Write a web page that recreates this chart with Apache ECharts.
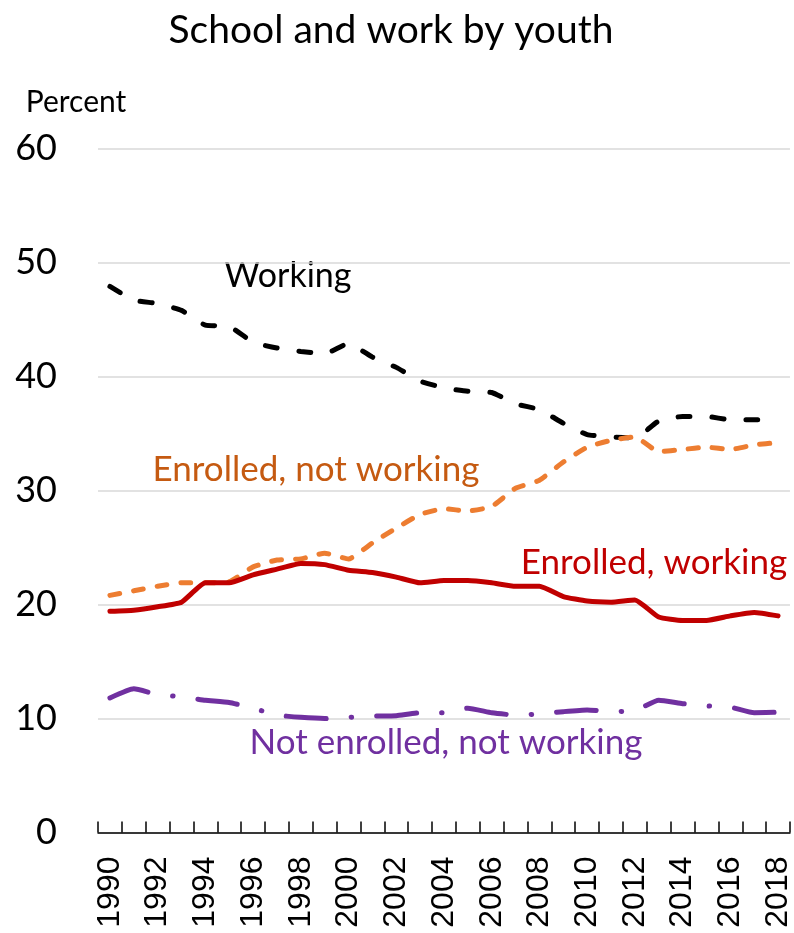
<!DOCTYPE html>
<html>
<head>
<meta charset="utf-8">
<script src="https://cdn.jsdelivr.net/npm/echarts@6/dist/echarts.min.js"></script>
<style>
html,body{margin:0;padding:0;background:#fff;}
#chart{width:794px;height:933px;}
</style>
</head>
<body>
<div id="chart"></div>
<script>
const years = ['1990','1991','1992','1993','1994','1995','1996','1997','1998','1999','2000','2001','2002','2003','2004','2005','2006','2007','2008','2009','2010','2011','2012','2013','2014','2015','2016','2017','2018'];
const working = [47.9,46.7,46.4,45.8,44.5,44.4,43.0,42.5,42.2,42.0,42.9,41.7,40.8,39.6,39.0,38.7,38.6,37.6,37.1,35.9,34.9,34.7,34.6,36.1,36.5,36.5,36.2,36.2,36.2];
const enrolledNotWorking = [20.8,21.2,21.6,21.9,21.9,22.0,23.3,23.9,24.0,24.5,24.0,25.4,26.7,27.9,28.4,28.2,28.6,30.2,30.9,32.5,33.8,34.4,34.7,33.4,33.6,33.8,33.6,34.0,34.2];
const enrolledWorking = [19.4,19.5,19.8,20.2,21.9,21.9,22.6,23.1,23.6,23.5,23.0,22.8,22.4,21.9,22.1,22.1,21.9,21.6,21.6,20.7,20.3,20.2,20.4,18.9,18.6,18.6,19.0,19.3,19.0];
const notEnrolledNotWorking = [11.8,12.6,12.1,11.9,11.6,11.4,10.9,10.3,10.1,10.0,10.1,10.2,10.25,10.5,10.5,10.9,10.5,10.3,10.4,10.6,10.75,10.6,10.7,11.6,11.3,11.1,11.0,10.5,10.55];
const yTicks = [0,10,20,30,40,50,60];

const calibri = 'Lato, "Noto Sans", sans-serif';
const chart = echarts.init(document.getElementById('chart'));
chart.setOption({
  animation: false,
  backgroundColor: '#fff',
  grid: {left: 98, right: 1, top: 148.5, bottom: 100.5, containLabel: false},
  xAxis: {
    type: 'category',
    data: years,
    boundaryGap: true,
    axisLine: {lineStyle: {color: '#000', width: 1.5}},
    axisTick: {show: true, inside: true, length: 11, interval: 0, lineStyle: {color: '#000', width: 1.5}},
    axisLabel: {interval: 1, rotate: 90, margin: 24, fontSize: 32, color: '#000', fontFamily: '"Liberation Sans", Arial, sans-serif'},
    splitLine: {show: false}
  },
  yAxis: {
    type: 'value',
    min: yTicks[0], max: yTicks[yTicks.length-1], interval: 10,
    axisLine: {show: false},
    axisTick: {show: false},
    axisLabel: {margin: 41, fontSize: 36, color: '#000', fontFamily: calibri},
    splitLine: {lineStyle: {color: '#d9d9d9', width: 1.5}}
  },
  series: [
    {name: 'Working', type: 'line', data: working, showSymbol: false, smooth: 0.15,
     lineStyle: {color: '#000', width: 5, type: [12, 22], cap: 'round'}},
    {name: 'Enrolled, not working', type: 'line', data: enrolledNotWorking, showSymbol: false, smooth: 0.15,
     lineStyle: {color: '#ed7d31', width: 5, type: [10, 14], cap: 'round'}},
    {name: 'Enrolled, working', type: 'line', data: enrolledWorking, showSymbol: false, smooth: 0.15,
     lineStyle: {color: '#c00000', width: 5, type: 'solid', cap: 'round'}},
    {name: 'Not enrolled, not working', type: 'line', data: notEnrolledNotWorking, showSymbol: false, smooth: 0.15,
     lineStyle: {color: '#7030a0', width: 5, type: [40, 25, 0.5, 25], cap: 'round'}}
  ],
  graphic: [
    {type: 'text', x: 391, y: 30, style: {text: 'School and work by youth', font: '39px ' + calibri, fill: '#000', align: 'center', verticalAlign: 'middle'}},
    {type: 'text', x: 76, y: 102, style: {text: 'Percent', font: '30px ' + calibri, fill: '#000', align: 'center', verticalAlign: 'middle'}},
    {type: 'text', x: 288, y: 276, style: {text: 'Working', font: '34px ' + calibri, fill: '#000', align: 'center', verticalAlign: 'middle'}},
    {type: 'text', x: 316, y: 470, style: {text: 'Enrolled, not working', font: '35px ' + calibri, fill: '#c55a11', align: 'center', verticalAlign: 'middle'}},
    {type: 'text', x: 654, y: 563, style: {text: 'Enrolled, working', font: '35px ' + calibri, fill: '#c00000', align: 'center', verticalAlign: 'middle'}},
    {type: 'text', x: 446, y: 743, style: {text: 'Not enrolled, not working', font: '35px ' + calibri, fill: '#7030a0', align: 'center', verticalAlign: 'middle'}}
  ]
});
</script>
</body>
</html>
